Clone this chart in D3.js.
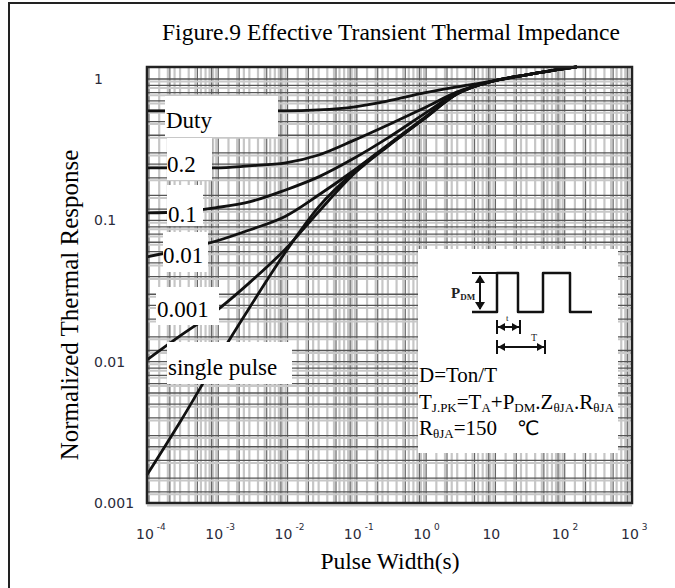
<!DOCTYPE html>
<html><head><meta charset="utf-8">
<script src="https://cdn.jsdelivr.net/npm/d3@7"></script>
<style>body{margin:0;background:#fff}svg{display:block}</style>
</head><body>
<script>
// ---- data ----
const pulseWidth = [1e-4, 3e-4, 1e-3, 3e-3, 1e-2, 3e-2, 0.1, 0.3, 1, 3, 10, 30, 100, 160];
const duty05   = [0.594, 0.594, 0.594, 0.594, 0.594, 0.604, 0.636, 0.700, 0.798, 0.879, 0.968, 1.069, 1.179, 1.218];
const duty02   = [0.235, 0.235, 0.235, 0.243, 0.255, 0.290, 0.371, 0.473, 0.624, 0.811, 0.968, 1.069, 1.179, 1.218];
const duty01   = [0.113, 0.115, 0.123, 0.135, 0.164, 0.203, 0.277, 0.383, 0.566, 0.798, 0.968, 1.069, 1.179, 1.218];
const duty001  = [0.0551, 0.0617, 0.0714, 0.0855, 0.107, 0.151, 0.228, 0.342, 0.531, 0.785, 0.968, 1.069, 1.179, 1.218];
const duty0001 = [0.0103, 0.0152, 0.0229, 0.0361, 0.0628, 0.115, 0.216, 0.334, 0.522, 0.785, 0.968, 1.069, 1.179, 1.218];
const singlePulse = [0.00158, 0.00374, 0.0101, 0.0240, 0.0597, 0.1245, 0.222, 0.338, 0.524, 0.785, 0.968, 1.069, 1.179, 1.218];
const seriesNames = ["0.5", "0.2", "0.1", "0.01", "0.001", "single pulse"];
const labelTexts = ["Duty", "0.2", "0.1", "0.01", "0.001", "single pulse"];
const xTickExponents = [-4, -3, -2, -1, 0, 1, 2, 3];
const yTickValues = [1, 0.1, 0.01, 0.001];
const yTickLabels = ["1", "0.1", "0.01", "0.001"];
const gridMantX = [1, 1.5, 2, 2.5, 3, 4, 5, 6, 7, 8, 9];
const gridMantXDark = [1, 2, 5, 8];
const gridMantY = [1, 1.2, 1.5, 2, 2.5, 3, 4, 5, 6, 7, 8, 9];

// ---- layout ----
const W = 675, H = 588;
const L = 147, R = 632, T = 67, B = 503;
const serif = "'Liberation Serif','Times New Roman',serif";
const sans = "'DejaVu Sans',Verdana,sans-serif";

const svg = d3.select("body").append("svg").attr("width", W).attr("height", H);
svg.append("rect").attr("width", W).attr("height", H).attr("fill", "#fff");
svg.append("rect").attr("x", 9).attr("y", 3).attr("width", 720).attr("height", 720)
  .attr("fill", "none").attr("stroke", "#222").attr("stroke-width", 2);

const x = d3.scaleLog().domain([1e-4, 1e3]).range([L, R]);
const y = d3.scaleLog().domain([1e-3, 1]).range([B, 79]);

// ---- grid ----
const g = svg.append("g");
const gx = [], gxd = [];
for (let k = -4; k <= 2; k++) {
  gridMantX.forEach(m => gx.push(m * Math.pow(10, k)));
  gridMantXDark.forEach(m => gxd.push(m * Math.pow(10, k)));
}
const gy = [];
for (let k = -3; k <= 0; k++) gridMantY.forEach(m => { const v = m * Math.pow(10, k); if (y(v) > T + 1) gy.push(v); });

g.selectAll(".vb").data(gx).join("line")
  .attr("x1", d => x(d)).attr("x2", d => x(d)).attr("y1", T).attr("y2", B)
  .attr("stroke", "#c6c6c6").attr("stroke-width", 2.2);
g.selectAll(".vd").data(gxd).join("line")
  .attr("x1", d => x(d) + 2).attr("x2", d => x(d) + 2).attr("y1", T).attr("y2", B)
  .attr("stroke", "#666").attr("stroke-width", 1.2);
g.selectAll(".hb").data(gy).join("line")
  .attr("x1", L).attr("x2", R).attr("y1", d => y(d) + 2.5).attr("y2", d => y(d) + 2.5)
  .attr("stroke", "#c8c8c8").attr("stroke-width", 2);
g.selectAll(".hd").data(gy).join("line")
  .attr("x1", L).attr("x2", R).attr("y1", d => y(d)).attr("y2", d => y(d))
  .attr("stroke", "#555").attr("stroke-width", 1.3);

// ---- curves ----
const allSeries = [duty05, duty02, duty01, duty001, duty0001, singlePulse];
const line = d3.line().x((d, i) => x(pulseWidth[i])).y(d => y(d)).curve(d3.curveMonotoneX);
svg.append("g").selectAll("path").data(allSeries).join("path")
  .attr("d", d => line(d)).attr("fill", "none").attr("stroke", "#111").attr("stroke-width", 2.8);

// ---- label boxes ----
const boxes = [
  {x: 165, y: 96, w: 113, h: 41, tx: 166, ty: 128},
  {x: 167, y: 138, w: 45, h: 42, tx: 167, ty: 172},
  {x: 167, y: 185, w: 36, h: 41, tx: 168, ty: 222},
  {x: 163, y: 232, w: 45, h: 40, tx: 163, ty: 263},
  {x: 156, y: 287, w: 63, h: 38, tx: 157, ty: 317},
  {x: 167, y: 342, w: 125, h: 42, tx: 168, ty: 375}
];
const lb = svg.append("g");
boxes.forEach((b, i) => {
  lb.append("rect").attr("x", b.x).attr("y", b.y).attr("width", b.w).attr("height", b.h).attr("fill", "#fff");
  lb.append("text").attr("x", b.tx).attr("y", b.ty).attr("font-family", serif).attr("font-size", 23)
    .attr("fill", "#000").text(labelTexts[i]);
});

// ---- inset ----
const ins = svg.append("g");
ins.append("rect").attr("x", 418).attr("y", 249).attr("width", 200).attr("height", 204).attr("fill", "#fff");
ins.append("path").attr("d", "M472,312 H497 V273 H518 V312 H543 V273 H570 V312 H592")
  .attr("fill", "none").attr("stroke", "#111").attr("stroke-width", 2.5).attr("stroke-linejoin", "round");
ins.append("path").attr("d", "M472,273 H497 M472,312 H497").attr("stroke", "#111").attr("stroke-width", 2);
const seg = (x1, y1, x2, y2) => {
  ins.append("line").attr("x1", x1).attr("y1", y1).attr("x2", x2).attr("y2", y2).attr("stroke", "#111").attr("stroke-width", 2);
};
seg(480, 276, 480, 309);
ins.append("path").attr("d", "M475,283 L480,275 L485,283 Z M475,302 L480,310 L485,302 Z").attr("fill", "#111");
seg(497, 320, 497, 334); seg(520, 320, 520, 334); seg(498, 327, 519, 327);
ins.append("path").attr("d", "M505,323 L498,327 L505,331 Z M512,323 L519,327 L512,331 Z").attr("fill", "#111");
seg(497, 340, 497, 354); seg(545, 340, 545, 354); seg(498, 347, 544, 347);
ins.append("path").attr("d", "M505,343 L498,347 L505,351 Z M537,343 L544,347 L537,351 Z").attr("fill", "#111");
const pd = ins.append("text").attr("x", 451).attr("y", 298).attr("font-family", serif).attr("font-size", 15).attr("font-weight", "bold").attr("fill", "#222");
pd.append("tspan").text("P");
pd.append("tspan").attr("font-size", 9).attr("dy", 2).text("DM");
ins.append("text").attr("x", 506).attr("y", 321).attr("font-family", serif).attr("font-size", 9).attr("fill", "#222").text("t");
ins.append("text").attr("x", 531).attr("y", 341).attr("font-family", serif).attr("font-size", 10).attr("fill", "#222").text("T");

ins.append("text").attr("x", 419).attr("y", 382).attr("font-family", serif).attr("font-size", 21).attr("fill", "#000").text("D=Ton/T");
const t2 = ins.append("text").attr("x", 419).attr("y", 409).attr("font-family", serif).attr("font-size", 21).attr("fill", "#000");
[["T", false], ["J.PK", true], ["=T", false], ["A", true], ["+P", false], ["DM", true], [".Z", false], ["θJA", true], [".R", false], ["θJA", true]]
  .forEach(([s, sub], i) => {
    const ts = t2.append("tspan").text(s);
    if (sub) ts.attr("font-size", 13).attr("dy", 3);
    else if (i > 0) ts.attr("dy", -3);
  });
const t3 = ins.append("text").attr("x", 419).attr("y", 435).attr("font-family", serif).attr("font-size", 21).attr("fill", "#000");
t3.append("tspan").text("R");
t3.append("tspan").attr("font-size", 13).attr("dy", 3).text("θJA");
t3.append("tspan").attr("dy", -3).text("=150");
ins.append("text").attr("x", 517).attr("y", 435).attr("font-family", "'Liberation Sans',Arial,'DejaVu Sans',sans-serif").attr("font-size", 20).attr("fill", "#000").text("℃");

// ---- frame ----
svg.append("rect").attr("x", L).attr("y", T).attr("width", R - L).attr("height", B - T)
  .attr("fill", "none").attr("stroke", "#222").attr("stroke-width", 2.5);

// ---- axes ----
const ax = svg.append("g");
xTickExponents.forEach(e => {
  const v = Math.pow(10, e);
  const tx = ax.append("text").attr("x", x(v) - 11).attr("y", 539).attr("font-family", sans)
    .attr("font-size", 14).attr("fill", "#2b2b3a");
  tx.append("tspan").text("10");
  if (e !== 1) tx.append("tspan").attr("font-size", 9).attr("dx", 3).attr("dy", -9).text(String(e));
});
yTickValues.forEach((v, i) => {
  ax.append("text").attr("x", 94).attr("y", y(v)).attr("dy", "0.35em").attr("font-family", sans)
    .attr("font-size", 14).attr("fill", "#2b2b3a").text(yTickLabels[i]);
});

// ---- titles ----
svg.append("text").attr("x", 391).attr("y", 40).attr("text-anchor", "middle").attr("font-family", serif)
  .attr("font-size", 23.5).attr("fill", "#000").text("Figure.9 Effective Transient Thermal Impedance");
svg.append("text").attr("x", 390).attr("y", 569).attr("text-anchor", "middle").attr("font-family", serif)
  .attr("font-size", 23.5).attr("fill", "#000").text("Pulse Width(s)");
svg.append("text").attr("transform", "translate(78,305) rotate(-90)").attr("text-anchor", "middle")
  .attr("font-family", serif).attr("font-size", 25).attr("fill", "#000").text("Normalized Thermal Response");
</script>
</body></html>
